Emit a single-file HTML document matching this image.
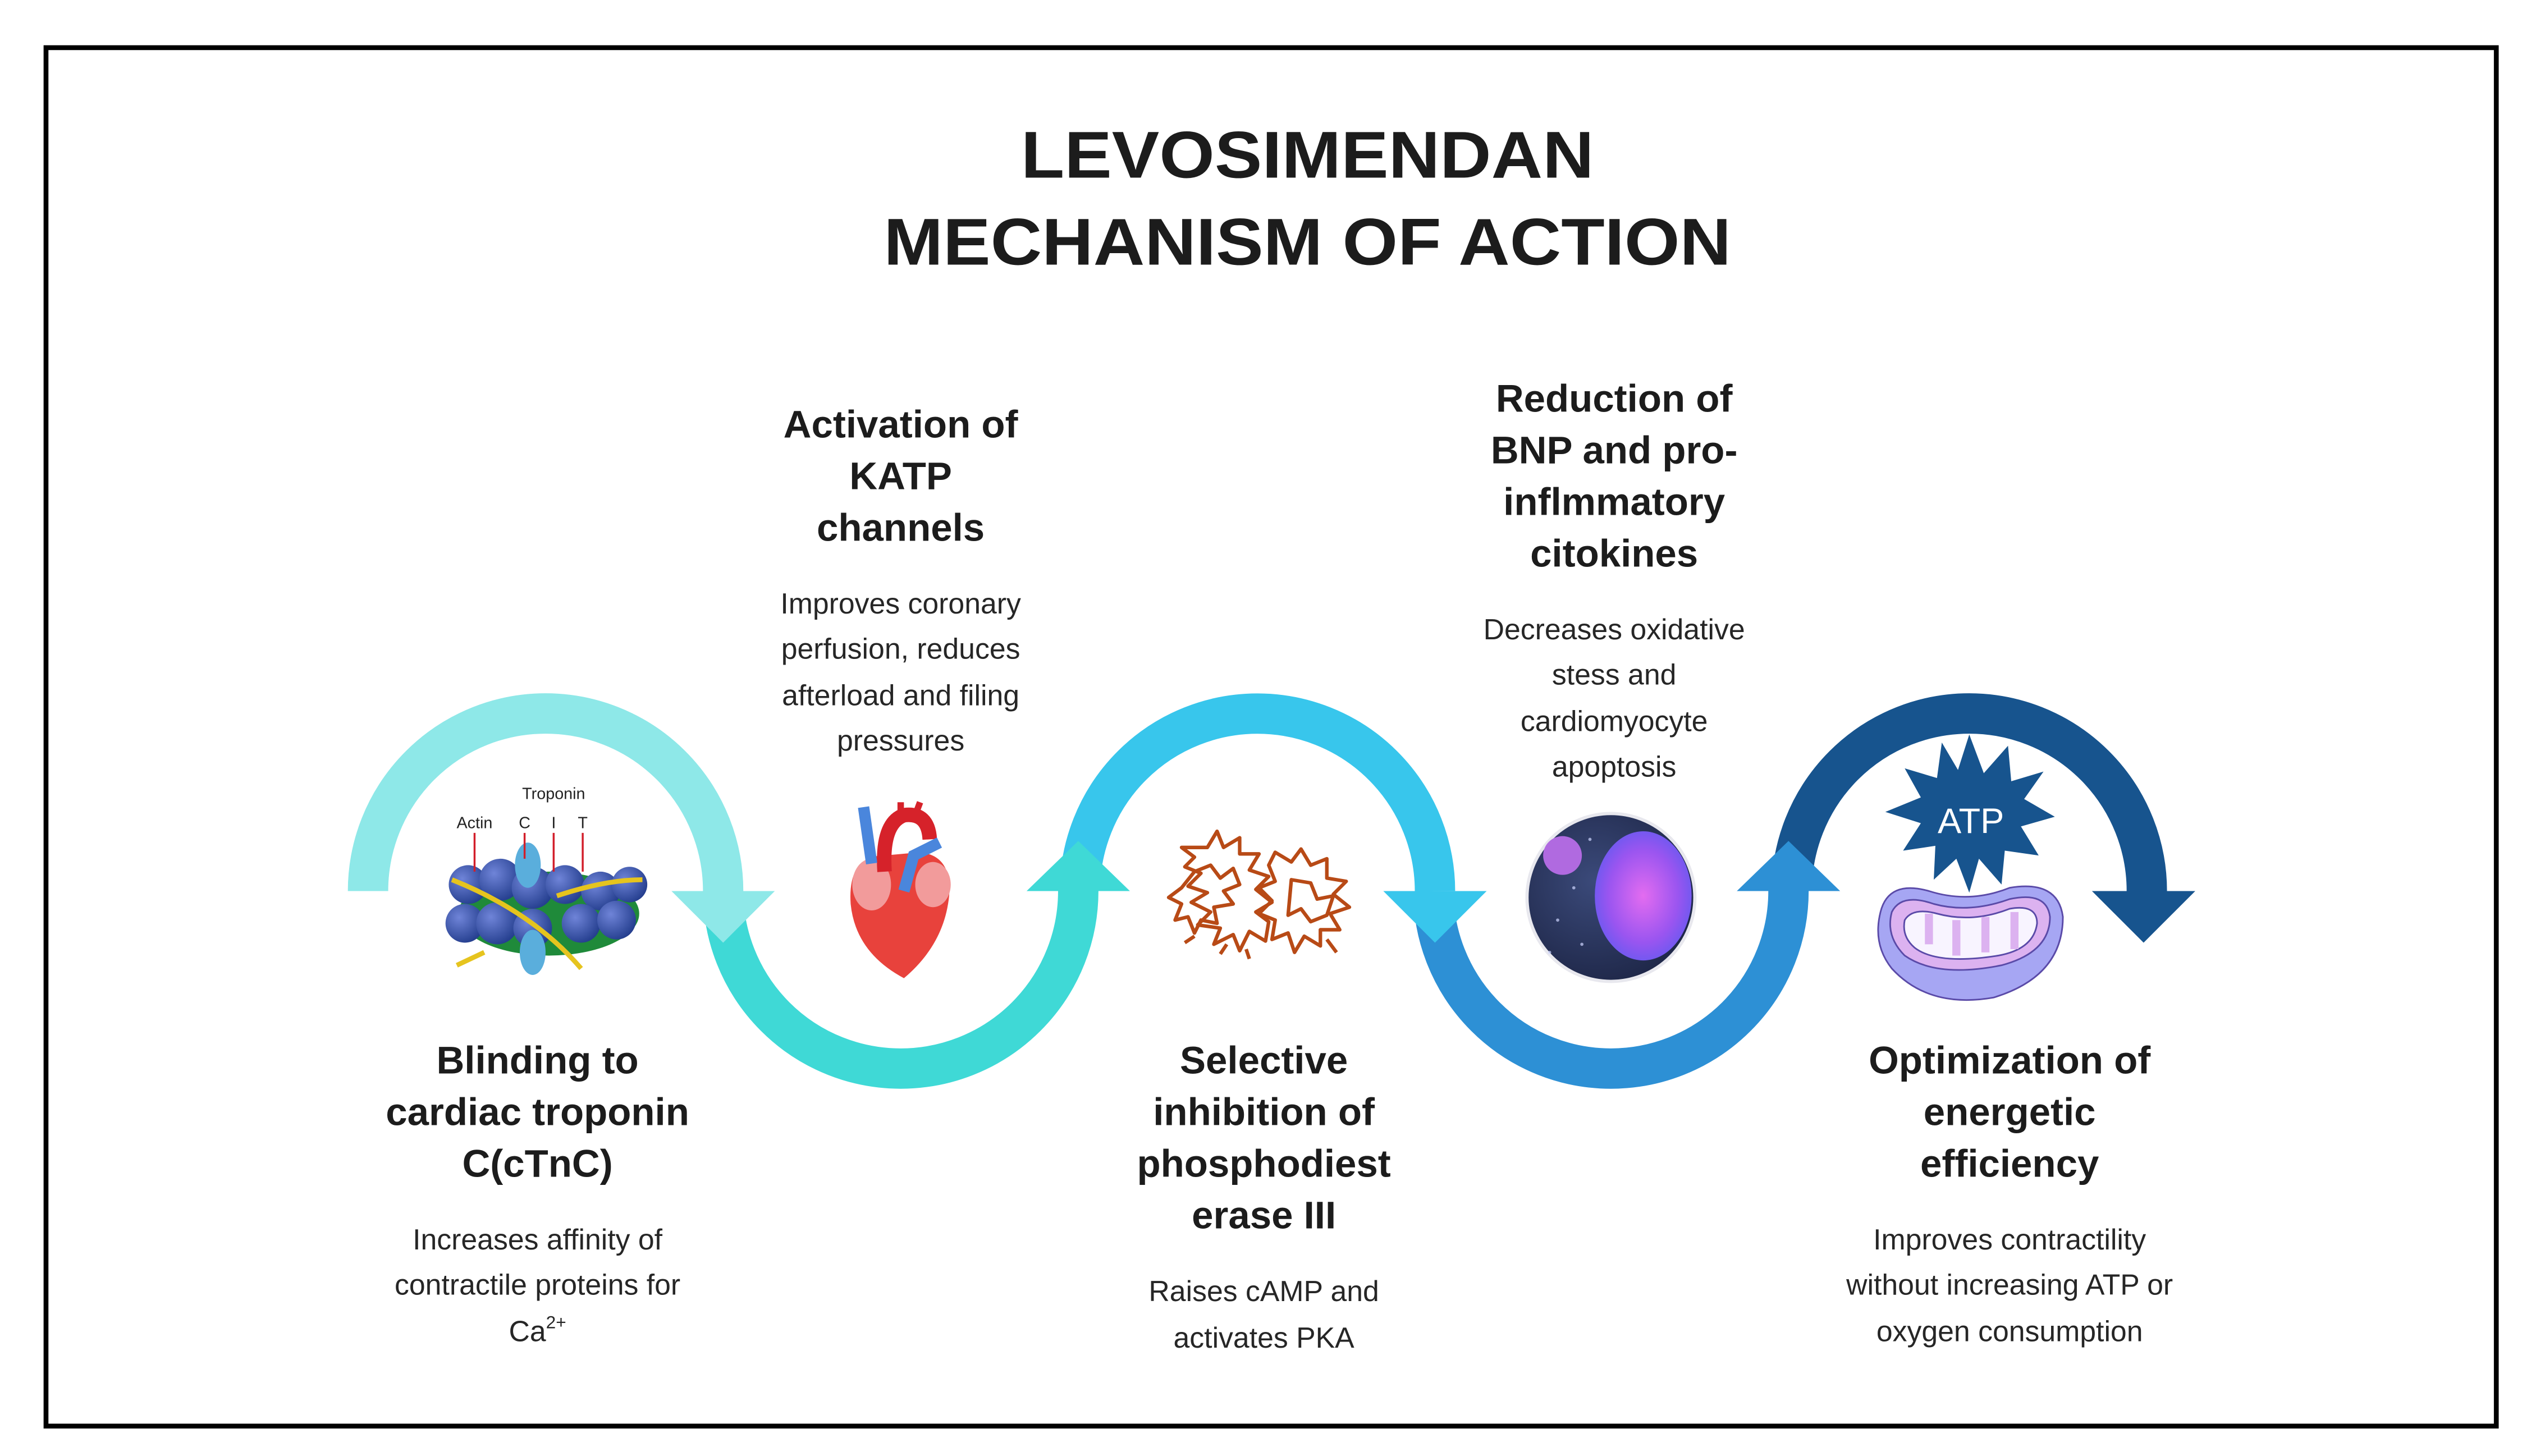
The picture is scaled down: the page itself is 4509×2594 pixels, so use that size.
<!DOCTYPE html>
<html><head><meta charset="utf-8"><style>
html,body{margin:0;padding:0;background:#fff;}
svg{display:block;}
.h{font-family:"Liberation Sans",sans-serif;font-weight:bold;font-size:24px;fill:#1c1c1c;text-anchor:middle;}
.b{font-family:"Liberation Sans",sans-serif;font-size:18px;fill:#262626;text-anchor:middle;}
.t{font-family:"Liberation Sans",sans-serif;font-weight:bold;font-size:41px;fill:#1c1c1c;text-anchor:middle;}
</style></head><body>
<svg width="4509" height="2594" viewBox="0 0 1568 902" xmlns="http://www.w3.org/2000/svg">
<defs>
<radialGradient id="cell" cx="0.4" cy="0.4" r="0.7"><stop offset="0" stop-color="#3b4a7a"/><stop offset="1" stop-color="#1c2444"/></radialGradient>
<radialGradient id="nuc" cx="0.5" cy="0.5" r="0.6"><stop offset="0" stop-color="#e36cf0"/><stop offset="0.6" stop-color="#9a55f0"/><stop offset="1" stop-color="#5a5af0"/></radialGradient>
<radialGradient id="ball" cx="0.35" cy="0.35" r="0.7"><stop offset="0" stop-color="#6f84d8"/><stop offset="1" stop-color="#243e8e"/></radialGradient>
</defs>
<rect x="0" y="0" width="1568" height="902" fill="#fff"/>
<rect x="28.5" y="29.5" width="1518" height="854" fill="none" stroke="#000" stroke-width="3"/>

<text class="t" x="810" y="110" textLength="355" lengthAdjust="spacingAndGlyphs">LEVOSIMENDAN</text>
<text class="t" x="810" y="164" textLength="525" lengthAdjust="spacingAndGlyphs">MECHANISM OF ACTION</text>

<g fill="none" stroke-width="25">
<path d="M228 552 A110 110 0 0 1 448 552" stroke="#8ee8e8"/>
<path d="M448 552 A110 110 0 0 0 668 552" stroke="#3fd9d6"/>
<path d="M669 552 A110 110 0 0 1 889 552" stroke="#38c6ec"/>
<path d="M888 552 A110 110 0 0 0 1108 552" stroke="#2d90d5"/>
<path d="M1110 552 A110 110 0 0 1 1330 552" stroke="#17548e"/>
</g>
<polygon points="416,552 480,552 448,584" fill="#8ee8e8"/>
<polygon points="636,552 700,552 668,521" fill="#3fd9d6"/>
<polygon points="857,552 921,552 889,584" fill="#38c6ec"/>
<polygon points="1076,552 1140,552 1108,521" fill="#2d90d5"/>
<polygon points="1296,552 1360,552 1328,584" fill="#17548e"/>

<g>
<ellipse cx="340" cy="566" rx="56" ry="26" fill="#1f8a3a"/>
<g fill="url(#ball)">
<circle cx="290" cy="548" r="12"/><circle cx="310" cy="545" r="13"/><circle cx="330" cy="550" r="13"/><circle cx="350" cy="548" r="12"/><circle cx="372" cy="552" r="12"/><circle cx="390" cy="548" r="11"/>
<circle cx="288" cy="572" r="12"/><circle cx="308" cy="572" r="13"/><circle cx="330" cy="575" r="12"/><circle cx="360" cy="572" r="12"/><circle cx="382" cy="570" r="12"/>
</g>
<ellipse cx="327" cy="536" rx="8" ry="14" fill="#5aaedc"/>
<ellipse cx="330" cy="590" rx="8" ry="14" fill="#5aaedc"/>
<path d="M280 545 Q330 565 360 600" stroke="#e6c41e" stroke-width="3" fill="none"/>
<path d="M345 555 Q375 545 398 545" stroke="#e6c41e" stroke-width="3" fill="none"/>
<path d="M283 598 L300 590" stroke="#e6c41e" stroke-width="3"/>
<g stroke="#d21e2a" stroke-width="1.2"><line x1="294" y1="516" x2="294" y2="540"/><line x1="325" y1="516" x2="325" y2="532"/><line x1="343" y1="516" x2="343" y2="540"/><line x1="361" y1="516" x2="361" y2="540"/></g>
<g font-family="Liberation Sans,sans-serif" font-size="10" fill="#222" text-anchor="middle">
<text x="343" y="495">Troponin</text><text x="294" y="513">Actin</text><text x="325" y="513">C</text><text x="343" y="513">I</text><text x="361" y="513">T</text>
</g>
</g>

<g>
<path d="M548 530 Q525 530 527 560 Q530 590 560 606 Q585 585 588 555 Q590 530 570 528 Z" fill="#e8423c"/>
<ellipse cx="540" cy="548" rx="12" ry="16" fill="#f29b9b"/>
<ellipse cx="578" cy="548" rx="11" ry="14" fill="#f29b9b"/>
<path d="M548 540 Q546 510 560 505 Q575 503 576 520" stroke="#d6222a" stroke-width="9" fill="none"/>
<path d="M540 535 L535 500" stroke="#4a86dc" stroke-width="7" fill="none"/>
<path d="M560 552 L566 530 L582 522" stroke="#4a86dc" stroke-width="7" fill="none"/>
<path d="M558 505 L558 497 M567 505 L570 497" stroke="#d6222a" stroke-width="4"/>
</g>

<g stroke="#b84a16" stroke-width="2.2" fill="none" stroke-linejoin="round">
<path d="M732 525 l8 6 l-6 6 l10 4 l-8 8 l12 4 l-10 6 l12 6 l-8 8 l14 2 l-4 10 l12 -6 l4 10 l6 -12 l10 6 l2 -12 l-8 -6 l10 -6 l-10 -8 l8 -8 l-12 -4 l6 -10 l-12 0 l0 -10 l-10 6 l-4 -10 l-6 10 z"/>
<path d="M740 540 l10 -4 l6 8 l8 -6 l4 10 l-10 4 l6 8 l-12 2 l2 10 l-10 -2 l-4 8 l-4 -10 l-8 2 l4 -10 l-8 -4 l8 -6 z"/>
<path d="M790 528 l10 6 l6 -8 l6 10 l10 -4 l0 12 l12 2 l-8 8 l10 8 l-12 4 l6 10 l-12 0 l0 10 l-10 -6 l-6 10 l-4 -12 l-10 4 l2 -12 l-10 -4 l8 -8 l-8 -8 l10 -4 l-4 -10 z"/>
<path d="M800 545 l12 2 l4 10 l10 -2 l-4 12 l-10 4 l-6 -8 l-8 4 z"/>
<path d="M760 585 l-4 6 M772 588 l2 6 M822 582 l6 8 M740 580 l-6 4"/>
</g>

<circle cx="998" cy="556" r="52" fill="url(#cell)" stroke="#e8e8ee" stroke-width="2"/>
<ellipse cx="1018" cy="555" rx="30" ry="40" fill="url(#nuc)"/>
<circle cx="968" cy="530" r="12" fill="#b06ae0"/>
<g fill="#cfd6ff" opacity="0.7"><circle cx="965" cy="570" r="1"/><circle cx="980" cy="585" r="1"/><circle cx="975" cy="550" r="1"/><circle cx="985" cy="520" r="1"/><circle cx="960" cy="590" r="1"/></g>

<polygon fill="#17548e" points="1220,455 1229,479 1244,462 1246,484 1266,478 1254,495 1273,506 1252,512 1263,530 1242,527 1240,548 1226,532 1220,553 1212,532 1198,545 1199,524 1179,527 1190,510 1168,503 1190,494 1180,476 1200,482 1203,460 1213,477"/>
<text x="1221" y="516" font-family="Liberation Sans,sans-serif" font-size="22" fill="#fff" text-anchor="middle">ATP</text>

<path d="M1165 565 Q1170 545 1195 552 Q1220 560 1245 550 Q1275 545 1278 568 Q1278 605 1235 618 Q1195 625 1172 600 Q1160 585 1165 565 Z" fill="#a6a6f3" stroke="#5a4aa8" stroke-width="1"/>
<path d="M1172 565 Q1178 553 1198 560 Q1220 566 1245 557 Q1268 552 1270 568 Q1270 590 1240 598 Q1200 606 1180 592 Q1168 580 1172 565 Z" fill="#dcb2f0" stroke="#5a4aa8" stroke-width="1"/>
<path d="M1180 570 Q1185 562 1200 566 Q1222 572 1245 563 Q1262 560 1262 572 Q1260 588 1238 592 Q1200 598 1186 587 Q1178 580 1180 570 Z" fill="#f8f4ff" stroke="#5a4aa8" stroke-width="1"/>
<path d="M1195 566 L1195 585 M1212 570 L1212 592 M1230 568 L1230 590 M1248 565 L1248 588" stroke="#dcb2f0" stroke-width="5"/>

<text class="h" x="558" y="271">Activation of</text>
<text class="h" x="558" y="303">KATP</text>
<text class="h" x="558" y="335">channels</text>
<text class="b" x="558" y="380">Improves coronary</text>
<text class="b" x="558" y="408">perfusion, reduces</text>
<text class="b" x="558" y="437">afterload and filing</text>
<text class="b" x="558" y="465">pressures</text>

<text class="h" x="1000" y="255">Reduction of</text>
<text class="h" x="1000" y="287">BNP and pro-</text>
<text class="h" x="1000" y="319">inflmmatory</text>
<text class="h" x="1000" y="351">citokines</text>
<text class="b" x="1000" y="396">Decreases oxidative</text>
<text class="b" x="1000" y="424">stess and</text>
<text class="b" x="1000" y="453">cardiomyocyte</text>
<text class="b" x="1000" y="481">apoptosis</text>

<text class="h" x="333" y="665">Blinding to</text>
<text class="h" x="333" y="697">cardiac troponin</text>
<text class="h" x="333" y="729">C(cTnC)</text>
<text class="b" x="333" y="774">Increases affinity of</text>
<text class="b" x="333" y="802">contractile proteins for</text>
<text class="b" x="333" y="831">Ca<tspan font-size="11" dy="-8">2+</tspan></text>

<text class="h" x="783" y="665">Selective</text>
<text class="h" x="783" y="697">inhibition of</text>
<text class="h" x="783" y="729">phosphodiest</text>
<text class="h" x="783" y="761">erase III</text>
<text class="b" x="783" y="806">Raises cAMP and</text>
<text class="b" x="783" y="835">activates PKA</text>

<text class="h" x="1245" y="665">Optimization of</text>
<text class="h" x="1245" y="697">energetic</text>
<text class="h" x="1245" y="729">efficiency</text>
<text class="b" x="1245" y="774">Improves contractility</text>
<text class="b" x="1245" y="802">without increasing ATP or</text>
<text class="b" x="1245" y="831">oxygen consumption</text>
</svg>
</body></html>
